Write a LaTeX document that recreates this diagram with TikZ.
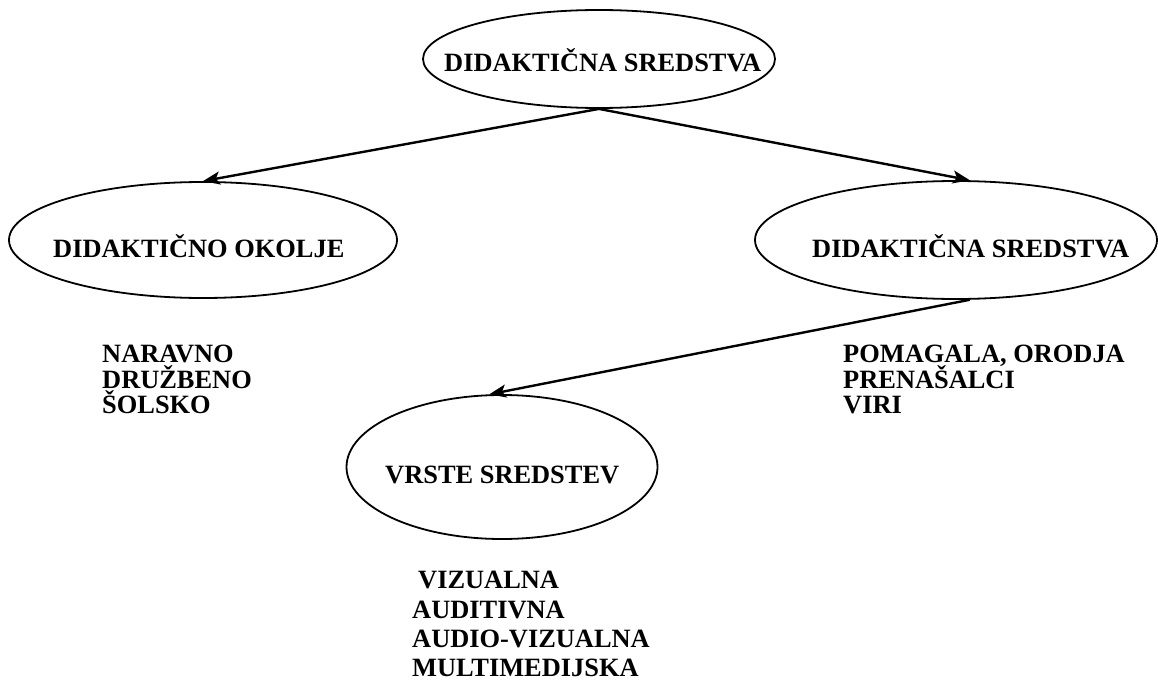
\documentclass[tikz,border=0pt]{standalone}
\usepackage{fontspec}
\setmainfont{Liberation Serif}
\usetikzlibrary{arrows.meta,shapes.geometric}
\begin{document}
\begin{tikzpicture}[x=1pt,y=-1pt,
  oval/.style={draw, ellipse, line width=1.8pt, inner sep=0pt},
  txt/.style={inner sep=0pt, anchor=base west, font=\fontsize{26.4}{26}\selectfont\bfseries},
  link/.style={line width=2.4pt, -{Stealth[length=17pt,width=13pt,inset=4pt]}}]
\useasboundingbox (0,0) rectangle (1158,682);

% ovals
\node[oval, minimum width=352pt, minimum height=98pt] (top) at (599,59) {};
\node[oval, minimum width=388pt, minimum height=116pt] (left) at (203,240) {};
\node[oval, minimum width=402pt, minimum height=118pt] (right) at (956,240) {};
\node[oval, minimum width=311pt, minimum height=144pt] (bottom) at (502,467) {};

% oval captions
\node[txt] (tTop) at (444,72) {DIDAKTIČNA SREDSTVA};
\node[txt] (tLeft) at (53,257) {DIDAKTIČNO OKOLJE};
\node[txt] (tRight) at (812,257) {DIDAKTIČNA SREDSTVA};
\node[txt] (tBottom) at (385,483) {VRSTE SREDSTEV};

% lists
\node[txt] (l1) at (102,362) {NARAVNO};
\node[txt] (l2) at (102,388) {DRUŽBENO};
\node[txt] (l3) at (102,413) {ŠOLSKO};

\node[txt] (r1) at (843,362) {POMAGALA, ORODJA};
\node[txt] (r2) at (843,388) {PRENAŠALCI};
\node[txt] (r3) at (843,413) {VIRI};

\node[txt] (b1) at (418,588) {VIZUALNA};
\node[txt] (b2) at (412,618) {AUDITIVNA};
\node[txt] (b3) at (412,647) {AUDIO-VIZUALNA};
\node[txt] (b4) at (412,676) {MULTIMEDIJSKA};

% connectors
\draw[link] (top.south) -- (left.north);
\draw[link] (top.south) -- (right.77);
\draw[link] (right.283) -- (bottom.100);
\end{tikzpicture}
\end{document}
